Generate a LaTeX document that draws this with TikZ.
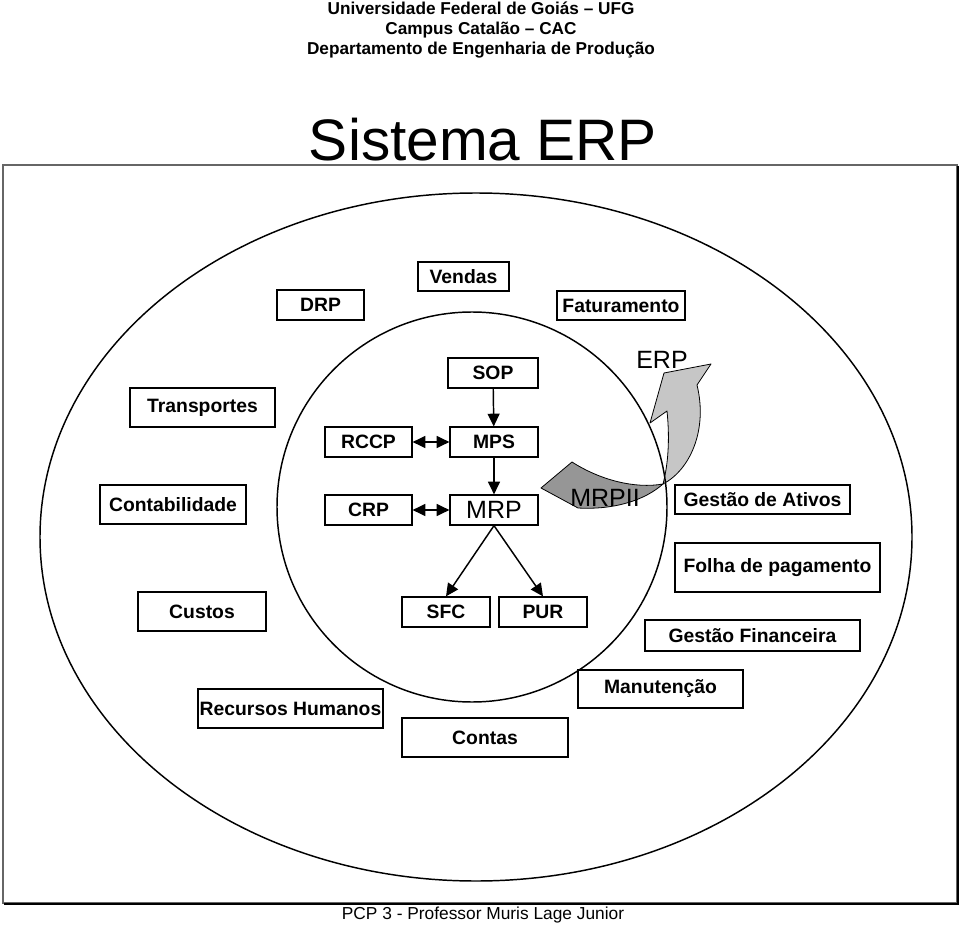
\documentclass[tikz,border=0pt]{standalone}
\usepackage{fontspec}
\setmainfont{Liberation Sans}
\usetikzlibrary{arrows.meta}
\definecolor{darkg}{RGB}{150,150,150}
\definecolor{lightg}{RGB}{198,198,198}
\tikzset{
 erpbox/.style={draw, line width=0.95pt, fill=white, inner sep=0pt, font=\fontsize{14.5}{16}\selectfont\bfseries},
 flow/.style={line width=1.1pt, -{Triangle[length=9.5pt,width=9pt]}},
 biflow/.style={line width=1.1pt, {Triangle[length=9.5pt,width=9pt]}-{Triangle[length=9.5pt,width=9pt]}},
 bigtxt/.style={inner sep=0pt, font=\fontsize{18.75}{20}\selectfont},
 head/.style={anchor=base, inner sep=0pt, font=\fontsize{12.9}{15}\selectfont\bfseries},
 ring/.style={line width=1.1pt},
 bigarrow/.style={draw=black, line width=0.6pt, line join=round},
}
\newcommand\erpnode[6]{\node[erpbox, minimum width={(#4-#2)*0.75pt}, minimum height={(#5-#3)*0.75pt}] (#1) at ({(#2+#4)/2},{(#3+#5)/2}) {#6};}
\begin{document}
\begin{tikzpicture}[x=0.75pt,y=-0.75pt]
\useasboundingbox (0,0) rectangle (960,927);
% header
\node[head] (h1) at (481,15) {Universidade Federal de Goiás – UFG};
\node[head] (h2) at (481,35) {Campus Catalão – CAC};
\node[head] (h3) at (481,55) {Departamento de Engenharia de Produção};
\node[anchor=base, inner sep=0pt, font=\fontsize{43.9}{46}\selectfont] (title) at (483,161) {Sistema ERP};
% frame
\draw[line width=1.2pt, black!60] (3,165) rectangle (957,903);
\draw[line width=0.8pt, black] (958,166) -- (958,904) -- (4,904);
% outer ellipse
\draw[ring] (476,537) ellipse [x radius={436*0.75pt}, y radius={344*0.75pt}];
% big curved arrow
\fill[darkg, bigarrow] (541,488) -- (572,462) .. controls (600,480) and (635,489) .. (663,484)
  .. controls (645,500) and (615,510) .. (578,508) -- cycle;
\fill[lightg, bigarrow] (663,484) .. controls (690,470) and (708,430) .. (697,385) -- (711,364) -- (664,373)
  -- (650,423) -- (667,411) .. controls (670,440) and (668,465) .. (663,484) -- cycle;
% inner circle
\draw[ring] (472,507) circle [radius={195*0.75pt}];
\node[bigtxt] (erp) at (662,360) {ERP};
\node[bigtxt] (mrpii) at (605,498) {MRPII};
% boxes
\erpnode{vendas}{418}{262}{509}{291}{Vendas}
\erpnode{drp}{277}{290}{364}{320}{DRP}
\erpnode{fat}{557}{291}{685}{320}{Faturamento}
\erpnode{sop}{448}{358}{538}{388}{SOP}
\erpnode{transp}{130}{388}{275}{427}{Transportes}
\erpnode{rccp}{325}{427}{412}{457}{RCCP}
\erpnode{mps}{450}{427}{538}{457}{MPS}
\erpnode{contab}{100}{485}{246}{524}{Contabilidade}
\erpnode{crp}{325}{495}{412}{525}{CRP}
\node[erpbox, font=\fontsize{18.75}{20}\selectfont, minimum width={88*0.75pt}, minimum height={30*0.75pt}] (mrp) at (494,510) {MRP};
\erpnode{ativos}{675}{485}{850}{514}{Gestão de Ativos}
\erpnode{folha}{675}{543}{880}{592}{Folha de pagamento}
\erpnode{custos}{138}{592}{266}{631}{Custos}
\erpnode{sfc}{402}{597}{490}{627}{SFC}
\erpnode{pur}{499}{597}{587}{627}{PUR}
\erpnode{gfin}{645}{620}{860}{651}{Gestão Financeira}
\erpnode{manut}{578}{670}{743}{708}{Manutenção}
\erpnode{rh}{198}{689}{383}{728}{Recursos Humanos}
\erpnode{contas}{402}{718}{568}{757}{Contas}
% connectors
\draw[flow] (sop) -- (mps);
\draw[flow] (mps) -- (mrp);
\draw[biflow] (rccp) -- (mps);
\draw[biflow] (crp) -- (mrp);
\draw[flow] (mrp.south) -- (sfc.north);
\draw[flow] (mrp.south) -- (pur.north);
% footer
\node[anchor=base, inner sep=0pt, font=\fontsize{13}{15}\selectfont] (foot) at (483,919) {PCP 3 - Professor Muris Lage Junior};
\end{tikzpicture}
\end{document}
